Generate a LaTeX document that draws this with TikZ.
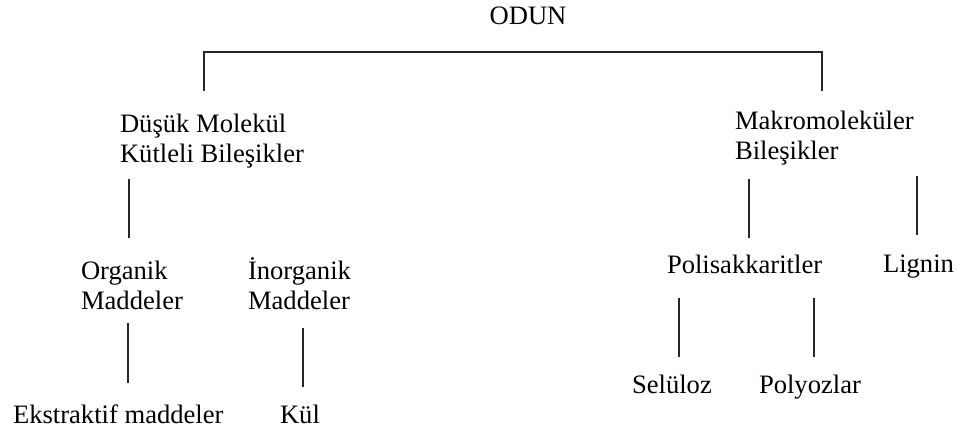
\documentclass[tikz,border=0pt]{standalone}
\usepackage{fontspec}
\setmainfont{Liberation Serif}
\usetikzlibrary{calc}

\tikzset{
  lbl/.style={inner sep=0pt, outer sep=0pt, anchor=base west, align=left,
    font=\fontsize{26.6}{30}\selectfont},
  link/.style={draw=black!85, line width=1.8pt, line cap=butt, line join=miter}
}

\begin{document}
\begin{tikzpicture}[x=1pt, y=-1pt]
  \useasboundingbox (0,0) rectangle (957,436);

  % labels are placed by the baseline of their last line
  % root and the two main groups
  \node[lbl, anchor=base] (odun) at (528,25) {ODUN};
  \node[lbl] (dmk)   at (120,162) {Düşük Molekül\\Kütleli Bileşikler};
  \node[lbl] (makro) at (735,159) {Makromoleküler\\Bileşikler};

  % second level
  \node[lbl] (org)    at (81,309)  {Organik\\Maddeler};
  \node[lbl] (inorg)  at (248,309) {İnorganik\\Maddeler};
  \node[lbl] (poli)   at (667,273) {Polisakkaritler};
  \node[lbl] (lignin) at (883,272) {Lignin};

  % leaves
  \node[lbl] (eks)  at (13,423)  {Ekstraktif maddeler};
  \node[lbl] (kul)  at (280,423) {Kül};
  \node[lbl] (sel)  at (632,393) {Selüloz};
  \node[lbl] (poly) at (759,393) {Polyozlar};

  % bracket under the root
  \draw[link] ($(dmk.base west)+(84,-71)$) |- ($(odun.base)+(0,27)$)
              -| ($(makro.base west)+(87,-68)$);

  % vertical connectors
  \draw[link] ($(dmk.base west)+(9,17)$)     -- ($(org.base west)+(48,-71)$);
  \draw[link] ($(org.base west)+(47,14)$)    -- ($(eks.base west)+(115,-40)$);
  \draw[link] ($(inorg.base west)+(55,19)$)  -- ($(kul.base west)+(23,-36)$);
  \draw[link] ($(makro.base west)+(14,20)$)  -- ($(poli.base west)+(82,-35)$);
  \draw[link] ($(makro.base west)+(182,17)$) -- ($(lignin.base west)+(34,-37)$);
  \draw[link] ($(poli.base west)+(12,25)$)   -- ($(sel.base west)+(47,-36)$);
  \draw[link] ($(poli.base west)+(147,25)$)  -- ($(poly.base west)+(55,-36)$);
\end{tikzpicture}
\end{document}
